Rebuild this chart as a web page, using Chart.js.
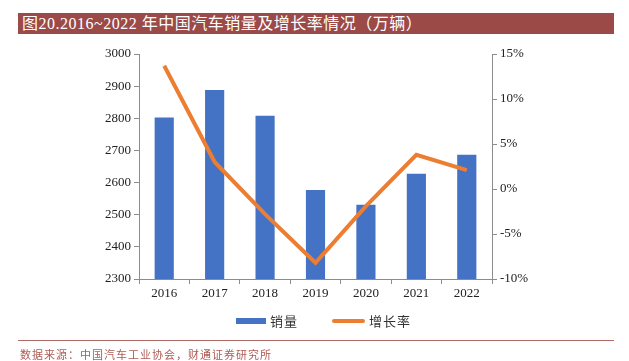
<!DOCTYPE html>
<html>
<head>
<meta charset="utf-8">
<script src="https://cdn.jsdelivr.net/npm/chart.js@4"></script>
<style>
	body { margin: 0; background: #fff; }
	#wrap { position: relative; width: 629px; height: 361px; overflow: hidden; }
	#chart-box { position: absolute; left: 0; top: 0; width: 629px; height: 361px; }
	#title {
		position: absolute; left: 18px; top: 13px; width: 596px; height: 21px;
		background: #9b4a47; color: #fff;
		font: 16px "Liberation Serif", "Noto Sans CJK SC", serif;
		line-height: 21px; padding-left: 4px; box-sizing: border-box; white-space: nowrap;
		letter-spacing: 0.5px;
	}
	#legend { position: absolute; top: 312px; left: 0; width: 629px; height: 18px; font: 13px "Noto Sans CJK SC", serif; color: #333; }
	.lg-item { position: absolute; top: 0; line-height: 18px; letter-spacing: 1px; }
	.lg-bar { position: absolute; width: 30px; height: 6px; top: 6px; background: #4472c4; }
	.lg-line { position: absolute; width: 33px; height: 4px; top: 7px; background: #ed7d31; border-radius: 2px; }
	#rule { position: absolute; left: 18px; top: 340px; width: 596px; height: 1px; background: #b06a66; }
	#source {
		position: absolute; left: 20px; top: 346px;
		font: 11px "Noto Sans CJK SC", serif; color: #b05a55; letter-spacing: 1px; white-space: nowrap;
	}
</style>
</head>
<body>
<div id="wrap">
	<div id="chart-box"><canvas id="sales-chart"></canvas></div>
	<div id="title">图20.2016~2022 年中国汽车销量及增长率情况（万辆）</div>
	<div id="legend">
		<span class="lg-bar" style="left:236px"></span>
		<span class="lg-item" style="left:270px">销量</span>
		<span class="lg-line" style="left:332px"></span>
		<span class="lg-item" style="left:369px">增长率</span>
	</div>
	<div id="rule"></div>
	<div id="source">数据来源：中国汽车工业协会，财通证券研究所</div>
</div>
<script>
const years = ["2016", "2017", "2018", "2019", "2020", "2021", "2022"];
const sales = [2802.8, 2887.9, 2808.1, 2576.9, 2531.1, 2627.5, 2686.4];
const growth = [13.7, 3.0, -2.8, -8.2, -1.9, 3.8, 2.1];

const tickFont = { family: "'Liberation Serif', 'Times New Roman', serif", size: 13 };
const axisColor = "#8c8c8c";

new Chart(document.getElementById("sales-chart"), {
	data: {
		labels: years,
		datasets: [
			{
				type: "line",
				label: "增长率",
				data: growth,
				yAxisID: "yRight",
				borderColor: "#ed7d31",
				backgroundColor: "#ed7d31",
				borderWidth: 4,
				pointRadius: 0,
				tension: 0,
				order: 0,
			},
			{
				type: "bar",
				label: "销量",
				data: sales,
				yAxisID: "yLeft",
				backgroundColor: "#4472c4",
				categoryPercentage: 1,
				barPercentage: 0.38,
				order: 1,
			},
		],
	},
	options: {
		responsive: true,
		maintainAspectRatio: false,
		animation: false,
		layout: {
			padding: { left: 99, right: 92, top: 54, bottom: 57 },
		},
		scales: {
			x: {
				afterFit: (s) => { s.height = 25; },
				grid: {
					offset: true,
					drawOnChartArea: false,
					tickLength: 5,
					color: axisColor,
				},
				border: { color: axisColor },
				ticks: { color: "#222", font: tickFont, padding: 2 },
			},
			yLeft: {
				position: "left",
				min: 2300,
				max: 3000,
				afterFit: (s) => { s.width = 40; },
				grid: { drawOnChartArea: false, tickLength: 5, color: axisColor },
				border: { color: axisColor },
				ticks: {
					stepSize: 100,
					color: "#222",
					font: tickFont,
					padding: 3,
					callback: (v) => String(v),
				},
			},
			yRight: {
				position: "right",
				min: -10,
				max: 15,
				afterFit: (s) => { s.width = 45; },
				grid: { drawOnChartArea: false, tickLength: 5, color: axisColor },
				border: { color: axisColor },
				ticks: {
					stepSize: 5,
					color: "#222",
					font: tickFont,
					padding: 3,
					callback: (v) => v + "%",
				},
			},
		},
		plugins: {
			legend: { display: false },
			tooltip: { enabled: false },
		},
	},
});
</script>
</body>
</html>
